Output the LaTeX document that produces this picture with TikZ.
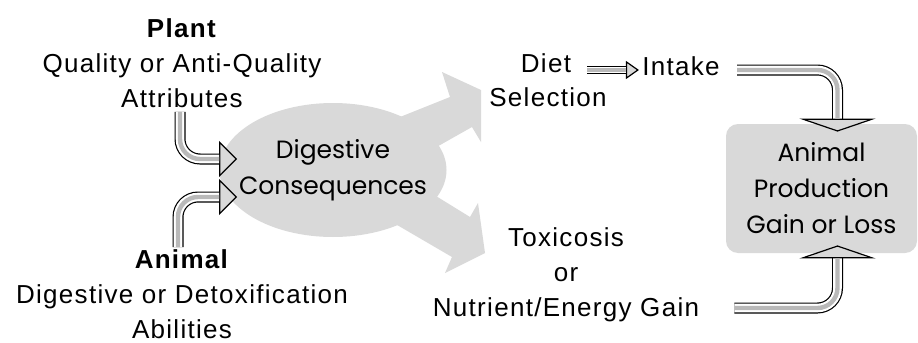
\documentclass[tikz,border=0pt]{standalone}
\usepackage{fontspec}
\setmainfont{Liberation Sans}[LetterSpace=5]
\newfontfamily\roundfont{Poppins}
\usetikzlibrary{arrows.meta,shapes.geometric}

\tikzset{
  plain text/.style={align=center, inner sep=1pt,
    font=\fontsize{13}{17.5}\selectfont},
  round text/.style={align=center, inner sep=1pt,
    font=\roundfont\fontsize{12.5}{18}\selectfont},
  blob/.style={fill=gray!30, draw=none},
  pipe/.style n args={3}{draw=black, line width=#1, rounded corners=10pt,
    -{Triangle[length=#2, width=#3, fill=gray!30, line width=0.6pt]},
    postaction={draw=white, line width=#1-1.2pt, -, shorten >=#2},
    postaction={draw=gray!55, line width=0.4*#1, -, shorten >=#2}}
}

\begin{document}
\begin{tikzpicture}[x=0.5pt, y=-0.5pt]
  \useasboundingbox (0,0) rectangle (918,343);
  \fill[white] (0,0) rectangle (918,343);

  % wide grey arrows leaving the ellipse
  \fill[blob] (380,125) -- (450,97) -- (442,72) -- (481,90) -- (481,142)
    -- (472,127) -- (410,162) -- cycle;
  \fill[blob] (410,180) -- (470,217) -- (478,203) -- (485,253) -- (445,273)
    -- (452,257) -- (380,215) -- cycle;

  \node[ellipse, blob, inner sep=0pt, minimum width=113.5pt, minimum height=67pt]
    (digest) at (333,170) {};
  \node[round text] (digesttext) at (digest) {Digestive\\Consequences};
  \node[blob, rounded corners=6pt, minimum width=95.5pt, minimum height=64.5pt, round text]
    (prod) at (821.5,188.5) {Animal\\Production\\Gain or Loss};

  \node[plain text] (plant) at (182,63) {\textbf{Plant}\\Quality or Anti-Quality\\Attributes};
  \node[plain text] (animal) at (182,294) {\textbf{Animal}\\Digestive or Detoxification\\Abilities};
  \node[plain text] (diet) at (546,63) {Diet};
  \node[plain text] (selection) at (548,97) {Selection};
  \node[plain text] (intake) at (681,66) {Intake};
  \node[plain text] (toxic) at (566,275) {Toxicosis\\or\\Nutrient/Energy Gain};

  \draw[pipe={5.5pt}{9pt}{18pt}] ([shift={(-2,2)}]plant.south) |- ([shift={(18,-11)}]digest.west);
  \draw[pipe={5.5pt}{9pt}{18pt}] ([shift={(-4,0)}]animal.north) |- ([shift={(18,27)}]digest.west);
  \draw[pipe={3.8pt}{6.5pt}{9pt}] ([shift={(14,7)}]diet.east) -- ([shift={(-1,4)}]intake.west);
  \draw[pipe={5.5pt}{6.5pt}{38pt}] ([shift={(15,4)}]intake.east) -| ([shift={(16,8)}]prod.north);
  \draw[pipe={5.5pt}{6.5pt}{38pt}] ([shift={(33,33)}]toxic.east) -| ([shift={(16,-8)}]prod.south);
\end{tikzpicture}
\end{document}
